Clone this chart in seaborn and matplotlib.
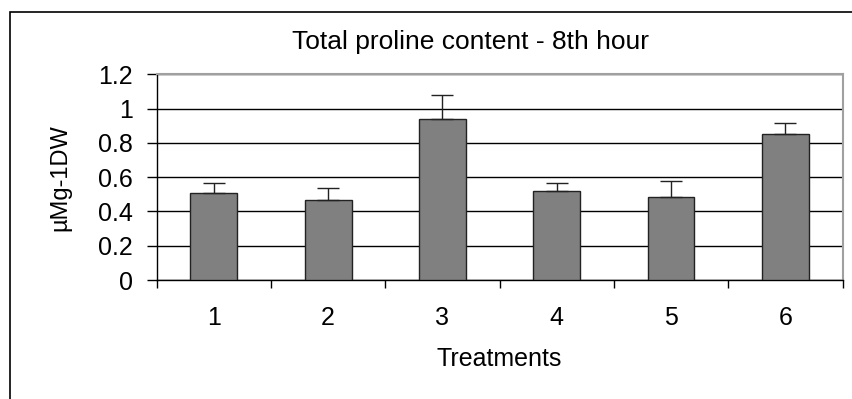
import pandas as pd
import seaborn as sns
import matplotlib.pyplot as plt
from matplotlib.patches import Rectangle
from matplotlib.ticker import FixedLocator

treatments = ["1", "2", "3", "4", "5", "6"]
proline = [0.51, 0.465, 0.937, 0.52, 0.486, 0.85]
proline_err = [0.055, 0.07, 0.14, 0.045, 0.09, 0.068]
y_ticks = [0, 0.2, 0.4, 0.6, 0.8, 1, 1.2]
y_tick_labels = ["0", "0.2", "0.4", "0.6", "0.8", "1", "1.2"]

if __name__ == "__main__":
    df = pd.DataFrame({"Treatments": treatments, "Proline": proline, "err": proline_err})

    sns.set_theme(style="white")
    plt.rcParams["font.family"] = ["Liberation Sans", "DejaVu Sans"]
    plt.rcParams["text.color"] = "black"
    plt.rcParams["axes.labelcolor"] = "black"
    plt.rcParams["xtick.color"] = "black"
    plt.rcParams["ytick.color"] = "black"

    fig = plt.figure(figsize=(8.53, 3.99), dpi=100)
    ax = fig.add_axes([0.1837, 0.298, 0.804, 0.516])

    sns.barplot(
        data=df, x="Treatments", y="Proline", ax=ax, color="#808080",
        edgecolor="#222222", linewidth=1, width=0.41, errorbar=None,
        saturation=1, zorder=3,
    )
    # upper error bars only
    ax.errorbar(
        range(len(treatments)), df["Proline"],
        yerr=[[0] * len(treatments), df["err"]],
        fmt="none", ecolor="#222222", elinewidth=1, capsize=8, capthick=1, zorder=4,
    )

    ax.set_ylim(0, 1.2)
    ax.set_xlim(-0.5, len(treatments) - 0.5)
    ax.set_yticks(y_ticks)
    ax.set_yticklabels(y_tick_labels)
    ax.yaxis.grid(True, color="black", linewidth=1)
    ax.set_axisbelow(True)

    # category boundary ticks, labels at the centres
    ax.xaxis.set_major_locator(FixedLocator([i - 0.5 for i in range(len(treatments) + 1)]))
    ax.xaxis.set_minor_locator(FixedLocator(range(len(treatments))))
    ax.set_xticklabels([""] * (len(treatments) + 1))
    ax.set_xticklabels(treatments, minor=True)
    ax.tick_params(axis="x", which="major", direction="out", length=6, width=1, color="black", bottom=True)
    ax.tick_params(axis="x", which="minor", length=0, pad=19, labelsize=18)
    ax.tick_params(axis="y", direction="out", length=7, width=1, color="black", left=True, pad=10, labelsize=18)

    for side in ["left", "bottom"]:
        ax.spines[side].set_color("black")
        ax.spines[side].set_linewidth(1)
    for side in ["top", "right"]:
        ax.spines[side].set_color("#a0a0a0")
        ax.spines[side].set_linewidth(1.5)

    ax.set_xlabel("Treatments", fontsize=18, labelpad=12)
    ax.set_ylabel("µMg-1DW", fontsize=17, labelpad=19)
    fig.text(0.552, 1 - 49 / 399, "Total proline content - 8th hour",
             ha="center", va="baseline", fontsize=19)

    # outer chart frame
    fig.patches.append(Rectangle((10 / 853, -0.2), 1.2, 0.2 + (1 - 12 / 399),
                                 transform=fig.transFigure, fill=False,
                                 edgecolor="black", linewidth=1.2))

    plt.savefig("out.png", dpi=100)
